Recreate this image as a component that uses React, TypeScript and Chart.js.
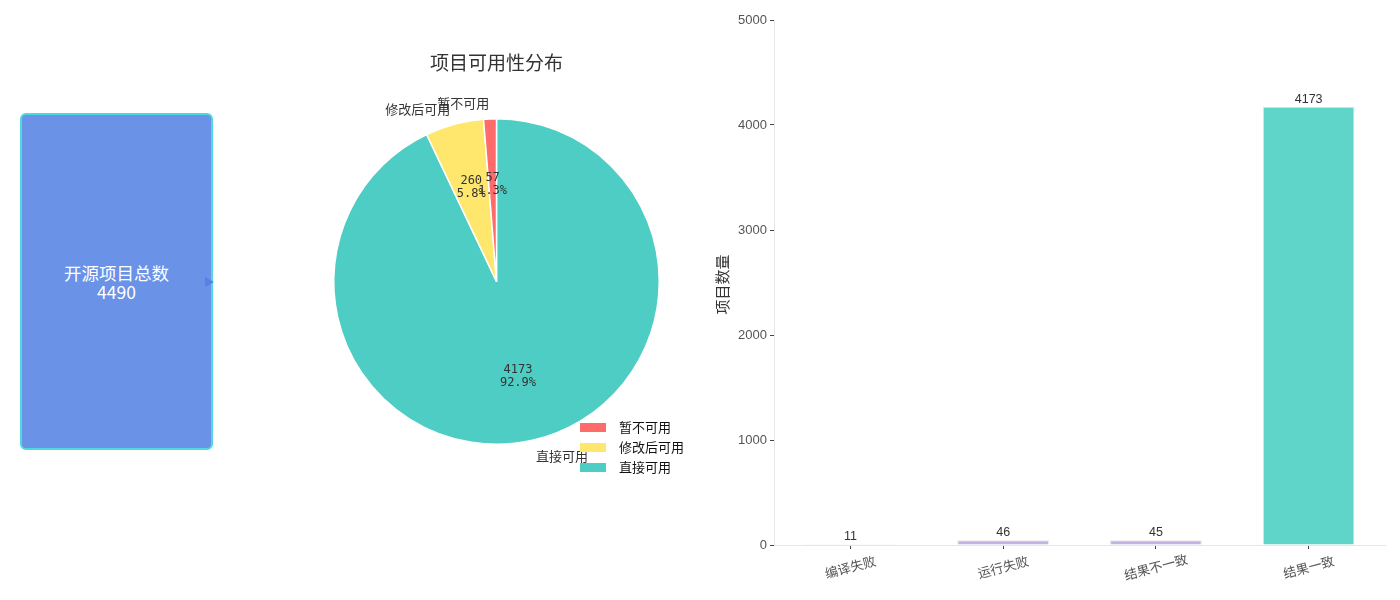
import React, { useEffect, useRef } from "react";
import { Chart, registerables } from "chart.js";

Chart.register(...registerables);

const FONT = '"Noto Sans CJK SC", "Noto Sans", sans-serif';
const NUMFONT = '"Liberation Sans", Arial, sans-serif';

// Summary box
const totalLabel = "开源项目总数";
const totalValue = 4490;

// Pie data (legend order)
const pieTitle = "项目可用性分布";
const pieLabels = ["暂不可用", "修改后可用", "直接可用"];
const pieValues = [57, 260, 4173];
const piePercents = ["1.3%", "5.8%", "92.9%"];
const pieColors = ["#FF6B6B", "#FFE66D", "#4ECDC4"];

// Bar data
const barLabels = ["编译失败", "运行失败", "结果不一致", "结果一致"];
const barValues = [11, 46, 45, 4173];
const barColors = ["#E9E9E9", "#C4B2E6", "#C4B2E6", "#5FD4C9"];
const yTicks = [0, 1000, 2000, 3000, 4000, 5000];
const yTitle = "项目数量";

function PieChart() {
  const ref = useRef<HTMLCanvasElement>(null);
  useEffect(() => {
    // reversed so that drawing clockwise from top mimics counter-clockwise layout
    const idx = [2, 1, 0];
    const piePlugin = {
      id: "pieDecor",
      afterDraw(chart: any) {
        const ctx = chart.ctx;
        const meta = chart.getDatasetMeta(0);
        ctx.save();
        // title
        ctx.fillStyle = "#333";
        ctx.font = `19px ${FONT}`;
        ctx.textAlign = "center";
        ctx.textBaseline = "middle";
        const c0 = meta.data[0];
        ctx.fillText(pieTitle, c0.x, 63);
        meta.data.forEach((arc: any, i: number) => {
          const k = idx[i];
          const mid = (arc.startAngle + arc.endAngle) / 2;
          const r = arc.outerRadius;
          // outer label
          const ox = arc.x + Math.cos(mid) * r * 1.1;
          const oy = arc.y + Math.sin(mid) * r * 1.1;
          ctx.font = `13px ${FONT}`;
          ctx.fillStyle = "#333";
          ctx.textAlign = ox < arc.x ? "right" : "left";
          ctx.textBaseline = "middle";
          ctx.fillText(pieLabels[k], ox, oy);
          // inner label
          const ix = arc.x + Math.cos(mid) * r * 0.6;
          const iy = arc.y + Math.sin(mid) * r * 0.6;
          ctx.textAlign = "center";
          ctx.font = `12px "DejaVu Sans Mono", ${FONT}`;
          ctx.fillText(String(pieValues[k]), ix, iy - 6.5);
          ctx.fillText(piePercents[k], ix, iy + 6.5);
        });
        // legend
        const lx = 280, ly = 427;
        pieLabels.forEach((lab, i) => {
          ctx.fillStyle = pieColors[i];
          ctx.fillRect(lx, ly + i * 20 - 4, 26, 9);
          ctx.fillStyle = "#111";
          ctx.font = `13px ${FONT}`;
          ctx.textAlign = "left";
          ctx.textBaseline = "middle";
          ctx.fillText(lab, lx + 39, ly + i * 20);
        });
        ctx.restore();
      },
    };
    const chart = new Chart(ref.current!, {
      type: "pie",
      data: {
        labels: idx.map((k) => pieLabels[k]),
        datasets: [
          {
            data: idx.map((k) => pieValues[k]),
            backgroundColor: idx.map((k) => pieColors[k]),
            borderColor: "#ffffff",
            borderWidth: 1.5,
          },
        ],
      },
      options: {
        responsive: false,
        animation: false,
        layout: { padding: { left: 33, right: 60, top: 118, bottom: 155 } },
        plugins: { legend: { display: false }, tooltip: { enabled: false } },
      },
      plugins: [piePlugin],
    });
    return () => chart.destroy();
  }, []);
  return (
    <canvas
      ref={ref}
      width={420}
      height={600}
      style={{ position: "absolute", left: 300, top: 0, width: 420, height: 600 }}
    />
  );
}

function BarChart() {
  const ref = useRef<HTMLCanvasElement>(null);
  useEffect(() => {
    const barPlugin = {
      id: "barDecor",
      afterDraw(chart: any) {
        const ctx = chart.ctx;
        const meta = chart.getDatasetMeta(0);
        const xs = chart.scales.x;
        const area = chart.chartArea;
        ctx.save();
        ctx.fillStyle = "#333";
        ctx.font = `12.5px ${NUMFONT}`;
        ctx.textAlign = "center";
        ctx.textBaseline = "bottom";
        meta.data.forEach((bar: any, i: number) => {
          ctx.fillText(String(barValues[i]), bar.x, bar.y - 1);
        });
        // rotated x labels
        ctx.fillStyle = "#555";
        ctx.font = `13px ${FONT}`;
        ctx.textBaseline = "middle";
        barLabels.forEach((lab, i) => {
          const x = xs.getPixelForTick(i);
          ctx.save();
          ctx.translate(x, area.bottom + 22);
          ctx.rotate((-15 * Math.PI) / 180);
          ctx.fillText(lab, 0, 0);
          ctx.restore();
        });
        // y title
        ctx.save();
        ctx.fillStyle = "#333";
        ctx.font = `15px ${FONT}`;
        ctx.translate(42, (area.top + area.bottom) / 2 + 2);
        ctx.rotate(-Math.PI / 2);
        ctx.textAlign = "center";
        ctx.fillText(yTitle, 0, 0);
        ctx.restore();
        ctx.restore();
      },
    };
    const chart = new Chart(ref.current!, {
      type: "bar",
      data: {
        labels: barLabels,
        datasets: [
          {
            data: barValues,
            backgroundColor: barColors,
            borderColor: "#E6E6E6",
            borderWidth: 1,
            barPercentage: 0.6,
            categoryPercentage: 1,
          },
        ],
      },
      options: {
        responsive: false,
        animation: false,
        layout: { padding: { left: 0, right: 15, top: 20, bottom: 0 } },
        plugins: { legend: { display: false }, tooltip: { enabled: false } },
        scales: {
          x: {
            offset: true,
            grid: { offset: false, drawOnChartArea: false, drawTicks: true, tickLength: 4, tickColor: "#444" },
            border: { color: "#E6E6E6" },
            ticks: { color: "rgba(0,0,0,0)", maxRotation: 0, minRotation: 0 },
            afterFit: (s: any) => {
              s.height = 55;
            },
          },
          y: {
            min: 0,
            max: 5000,
            afterBuildTicks: (s: any) => {
              s.ticks = yTicks.map((v) => ({ value: v }));
            },
            grid: { drawOnChartArea: false, drawTicks: true, tickLength: 4, tickColor: "#444" },
            border: { color: "#E6E6E6" },
            ticks: {
              color: "#555",
              font: { family: NUMFONT, size: 13 },
              padding: 3,
              callback: (v: any) => String(v),
            },
            afterFit: (s: any) => {
              s.width = 94;
            },
          },
        },
      },
      plugins: [barPlugin],
    });
    return () => chart.destroy();
  }, []);
  return (
    <canvas
      ref={ref}
      width={720}
      height={600}
      style={{ position: "absolute", left: 680, top: 0, width: 720, height: 600 }}
    />
  );
}

export default function App() {
  return (
    <div
      style={{
        position: "fixed",
        left: 0,
        top: 0,
        width: 1400,
        height: 600,
        background: "#fff",
        fontFamily: FONT,
        overflow: "hidden",
      }}
    >
      <div
        style={{
          position: "absolute",
          left: 20,
          top: 113,
          width: 189,
          height: 333,
          background: "#6A92E7",
          border: "2px solid #4DD8E3",
          borderRadius: 6,
          color: "#fff",
          display: "flex",
          flexDirection: "column",
          alignItems: "center",
          justifyContent: "center",
          fontSize: 17.5,
          lineHeight: "19px",
        }}
      >
        <div>{totalLabel}</div>
        <div>{totalValue}</div>
      </div>
      <div
        style={{
          position: "absolute",
          left: 205,
          top: 277,
          width: 0,
          height: 0,
          borderTop: "5px solid transparent",
          borderBottom: "5px solid transparent",
          borderLeft: "9px solid #5A80E6",
        }}
      />
      <PieChart />
      <BarChart />
    </div>
  );
}
